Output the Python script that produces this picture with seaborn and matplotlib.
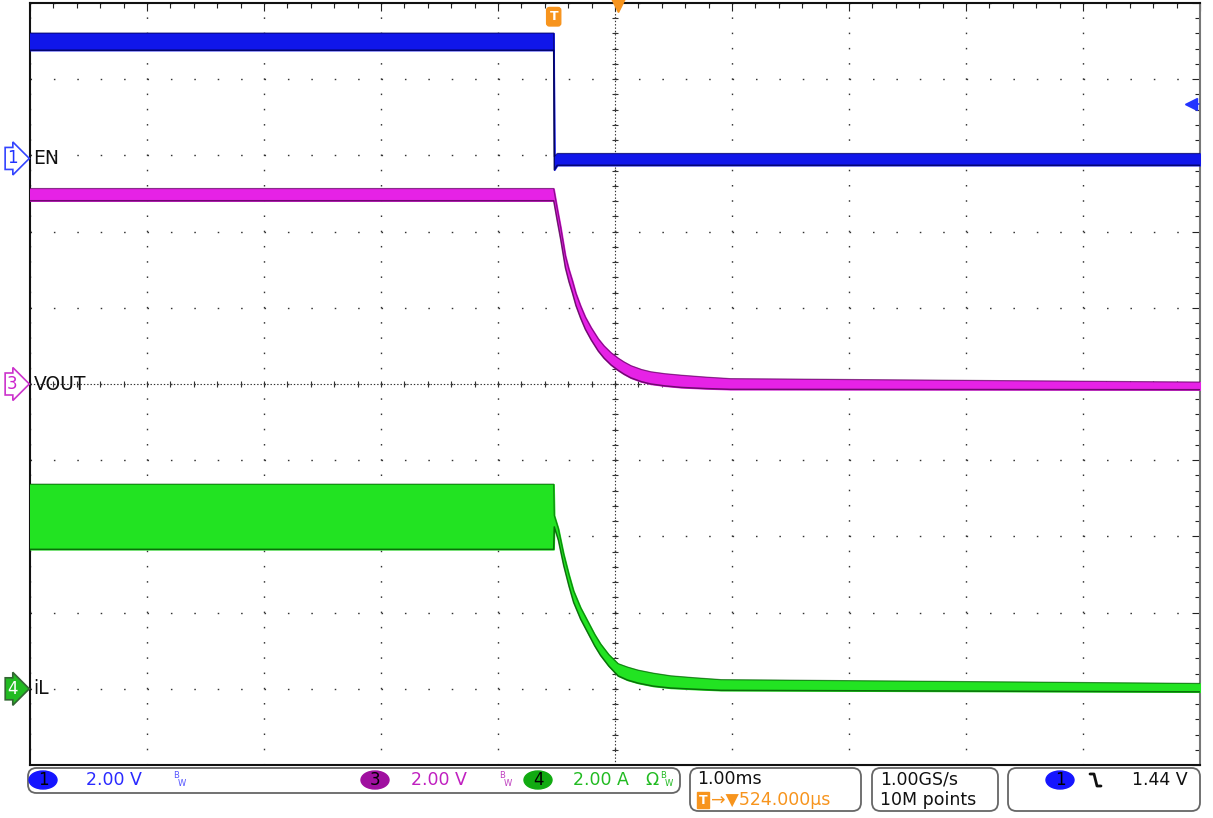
import numpy as np
import pandas as pd
import matplotlib
matplotlib.use("Agg")
import matplotlib.pyplot as plt
from matplotlib import patches, transforms
import seaborn as sns

# time in ms, measured from the trigger (EN falling edge)
en_time = [-4.476, 0.0, 0.005, 0.03, 5.524]
en_upper = [3.29, 3.29, 0.05, 0.13, 0.13]       # V
en_lower = [2.84, 2.84, -0.30, -0.18, -0.18]

vout_time = [-4.476, 0.0, 0.03, 0.06, 0.10, 0.13, 0.16, 0.19, 0.23, 0.27, 0.32, 0.38,
             0.43, 0.49, 0.55, 0.60, 0.66, 0.75, 0.83, 0.95, 1.09, 1.30, 1.51, 5.524]
vout_upper = [5.13, 5.13, 4.61, 4.11, 3.37, 3.01, 2.71, 2.38, 2.05, 1.76, 1.48, 1.19,
              1.00, 0.82, 0.68, 0.58, 0.48, 0.38, 0.32, 0.27, 0.23, 0.18, 0.14, 0.05]
vout_lower = [4.81, 4.81, 4.29, 3.79, 3.05, 2.69, 2.39, 2.06, 1.73, 1.44, 1.16, 0.87,
              0.68, 0.50, 0.36, 0.26, 0.16, 0.06, 0.00, -0.05, -0.09, -0.12, -0.14, -0.15]

il_time = [-4.476, 0.0, 0.005, 0.04, 0.085, 0.13, 0.17, 0.23, 0.29, 0.35, 0.40, 0.47,
           0.55, 0.63, 0.72, 0.85, 1.0, 1.2, 1.43, 5.524]
il_upper = [5.37, 5.37, 4.55, 4.20, 3.54, 3.00, 2.57, 2.13, 1.78, 1.43, 1.18, 0.90,
            0.66, 0.57, 0.49, 0.41, 0.34, 0.29, 0.24, 0.14]   # A
il_lower = [3.66, 3.66, 4.25, 3.90, 3.24, 2.70, 2.27, 1.83, 1.48, 1.13, 0.88, 0.60,
            0.34, 0.23, 0.15, 0.07, 0.02, -0.01, -0.04, -0.08]

channel_names = ["EN", "VOUT", "iL"]
channel_ids = ["1", "3", "4"]
channel_offsets = [2.96, 0.0, -4.0]     # ground level, in divisions
channel_scales = [2.0, 2.0, 2.0]        # V/div, V/div, A/div
h_position = 0.524                      # ms from trigger to screen centre
trigger_level = 1.44                    # V on channel 1

rows = []
for name, t, hi, lo in [("EN", en_time, en_upper, en_lower),
                        ("VOUT", vout_time, vout_upper, vout_lower),
                        ("iL", il_time, il_upper, il_lower)]:
    for i in range(len(t)):
        rows.append({"channel": name, "t": t[i], "upper": hi[i], "lower": lo[i]})
df = pd.DataFrame(rows)

fills = {"EN": "#1016ea", "VOUT": "#e622e6", "iL": "#22e322"}
darks = {"EN": "#00004a", "VOUT": "#4a004a", "iL": "#004a00"}

sns.set_theme(style="white")
plt.rcParams["font.family"] = ["DejaVu Sans"]
plt.rcParams["lines.scale_dashes"] = False

W, H = 1213, 818
fig = plt.figure(figsize=(W / 100, H / 100), dpi=100)
ax = fig.add_axes([30 / W, 53 / H, 1170 / W, 762 / H])

ax.set_xlim(h_position - 5, h_position + 5)
ax.set_ylim(-5, 5)
ax.set_xticks(h_position + np.arange(-5, 6))
ax.set_xticks(h_position + np.arange(-5, 5.01, 0.2), minor=True)
ax.set_yticks(np.arange(-5, 6))
ax.set_yticks(np.arange(-5, 5.01, 0.2), minor=True)
ax.tick_params(which="both", direction="in", top=True, right=True,
               labelbottom=False, labelleft=False, color="#222222", width=0.8)
ax.tick_params(which="major", length=6)
ax.tick_params(which="minor", length=3.5)

# dotted graticule: one dot every 0.2 div
ax.xaxis.grid(True, which="major", color="#333333", lw=1.0, linestyle=(0, (1.1, 9.87)))
ax.yaxis.grid(True, which="major", color="#333333", lw=1.0, linestyle=(0, (1.1, 15.75)))
ax.set_axisbelow(True)
ax.axhline(0, color="#333333", lw=0.8, ls=(0, (1, 1.4)), zorder=1)
ax.axvline(h_position, color="#333333", lw=0.8, ls=(0, (1, 1.4)), zorder=1)
minor_x = h_position + np.arange(-5, 5.01, 0.2)
minor_y = np.arange(-5, 5.01, 0.2)
ax.plot(minor_x, np.zeros_like(minor_x), ls="none", marker="|", ms=5, mew=0.8, color="#333333", zorder=1)
ax.plot(np.full_like(minor_y, h_position), minor_y, ls="none", marker="_", ms=5, mew=0.8, color="#333333", zorder=1)

for spine in ["left", "bottom", "top"]:
    ax.spines[spine].set_color("#111111")
    ax.spines[spine].set_linewidth(1.5)
ax.spines["right"].set_color("#777777")
ax.spines["right"].set_linewidth(1.5)

# traces
for name, off, scale in zip(channel_names, channel_offsets, channel_scales):
    d = df[df["channel"] == name].copy()
    d["hi"] = off + d["upper"] / scale
    d["lo"] = off + d["lower"] / scale
    ax.fill_between(d["t"], d["lo"], d["hi"], color=fills[name], lw=1.0,
                    edgecolor=fills[name], zorder=3)
    sns.lineplot(data=d, x="t", y="hi", estimator=None, sort=False, color=darks[name],
                 lw=0.9, alpha=0.6, ax=ax, zorder=4)
    sns.lineplot(data=d, x="t", y="lo", estimator=None, sort=False, color=darks[name],
                 lw=1.1, alpha=0.75, ax=ax, zorder=4)
ax.set_xlabel("")
ax.set_ylabel("")

# channel labels and ground markers
blend = transforms.blended_transform_factory(ax.transAxes, ax.transData)
marker_style = {
    "1": dict(fc="white", ec="#3344ff", tc="#2233ff"),
    "3": dict(fc="white", ec="#cc33cc", tc="#cc22cc"),
    "4": dict(fc="#22bb22", ec="#336633", tc="white"),
}
for name, cid, off in zip(channel_names, channel_ids, channel_offsets):
    ax.text(h_position - 5 + 0.03, off, name, ha="left", va="center",
            fontsize=13.5, color="#111111", zorder=6)
    st = marker_style[cid]
    ax.text(-0.015, off, cid, transform=blend, ha="center", va="center",
            fontsize=12, color=st["tc"], clip_on=False, zorder=6,
            bbox=dict(boxstyle="rarrow,pad=0.12", fc=st["fc"], ec=st["ec"], lw=1.2))

# trigger markers
orange = "#f7941d"
ax.text(0, 4.82, "T", ha="center", va="center", color="white", fontsize=9,
        fontweight="bold", zorder=7,
        bbox=dict(boxstyle="round,pad=0.22", fc=orange, ec=orange))
ax.plot([h_position + 0.025], [4.97], marker="v", color=orange, ms=10, clip_on=False, zorder=7)
lvl = channel_offsets[0] + trigger_level / channel_scales[0]
ax.plot([h_position + 4.92, h_position + 4.99], [lvl, lvl], color="#2233ff", lw=1.2, zorder=7)
ax.plot([h_position + 4.92], [lvl], marker="<", color="#2233ff", ms=8, zorder=7)


# status bar below the graticule
def fx(x):
    return x / W


def fy(y):
    return 1 - y / H


def status_box(x0, y0, x1, y1):
    fig.add_artist(patches.FancyBboxPatch(
        (fx(x0), fy(y1)), fx(x1 - x0), (y1 - y0) / H,
        boxstyle="round,pad=0,rounding_size=0.007", mutation_aspect=W / H,
        transform=fig.transFigure, fc="white", ec="#666666", lw=1.3))


def badge(xc, yc, label, color):
    fig.add_artist(patches.Ellipse((fx(xc), fy(yc)), 28 / W, 18 / H,
                                   transform=fig.transFigure, fc=color, ec=color))
    fig.text(fx(xc), fy(yc), label, ha="center", va="center", fontsize=12, color="black")


status_box(28, 768, 680, 793)
status_box(690, 768, 861, 811)
status_box(872, 768, 998, 811)
status_box(1008, 768, 1200, 811)

fs = 12.5
badge(43, 780, "1", "#1515ff")
fig.text(fx(86), fy(780), "2.00 V", ha="left", va="center", fontsize=fs, color="#2a2aff")
fig.text(fx(173), fy(776), "B", ha="left", va="center", fontsize=6, color="#5555ff")
fig.text(fx(178), fy(783), "W", ha="left", va="center", fontsize=6, color="#5555ff")

badge(375, 780, "3", "#a010a0")
fig.text(fx(411), fy(780), "2.00 V", ha="left", va="center", fontsize=fs, color="#c020c0")
fig.text(fx(499), fy(776), "B", ha="left", va="center", fontsize=6, color="#c040c0")
fig.text(fx(504), fy(783), "W", ha="left", va="center", fontsize=6, color="#c040c0")

badge(538, 780, "4", "#11aa11")
fig.text(fx(573), fy(780), "2.00 A", ha="left", va="center", fontsize=fs, color="#22bb22")
fig.text(fx(645), fy(780), "Ω", ha="left", va="center", fontsize=fs, color="#22bb22")
fig.text(fx(660), fy(776), "B", ha="left", va="center", fontsize=6, color="#22bb22")
fig.text(fx(665), fy(783), "W", ha="left", va="center", fontsize=6, color="#22bb22")

fig.text(fx(697), fy(779), "1.00ms", ha="left", va="center", fontsize=fs, color="#111111")
fig.text(fx(703), fy(800), "T", ha="center", va="center", fontsize=9, color="white",
         fontweight="bold", bbox=dict(boxstyle="square,pad=0.15", fc=orange, ec=orange))
fig.text(fx(711), fy(800), "→▼524.000µs", ha="left", va="center", fontsize=fs, color=orange)

fig.text(fx(880), fy(779), "1.00GS/s", ha="left", va="center", fontsize=fs, color="#111111")
fig.text(fx(880), fy(800), "10M points", ha="left", va="center", fontsize=fs, color="#111111")

badge(1060, 780, "1", "#1515ff")
fig.add_artist(plt.Line2D([fx(1090), fx(1094), fx(1097), fx(1101)],
                          [fy(774), fy(774), fy(786), fy(786)],
                          transform=fig.transFigure, color="#111111", lw=2))
fig.text(fx(1132), fy(780), "1.44 V", ha="left", va="center", fontsize=fs, color="#111111")

fig.savefig("out.png", dpi=100)
plt.close(fig)
